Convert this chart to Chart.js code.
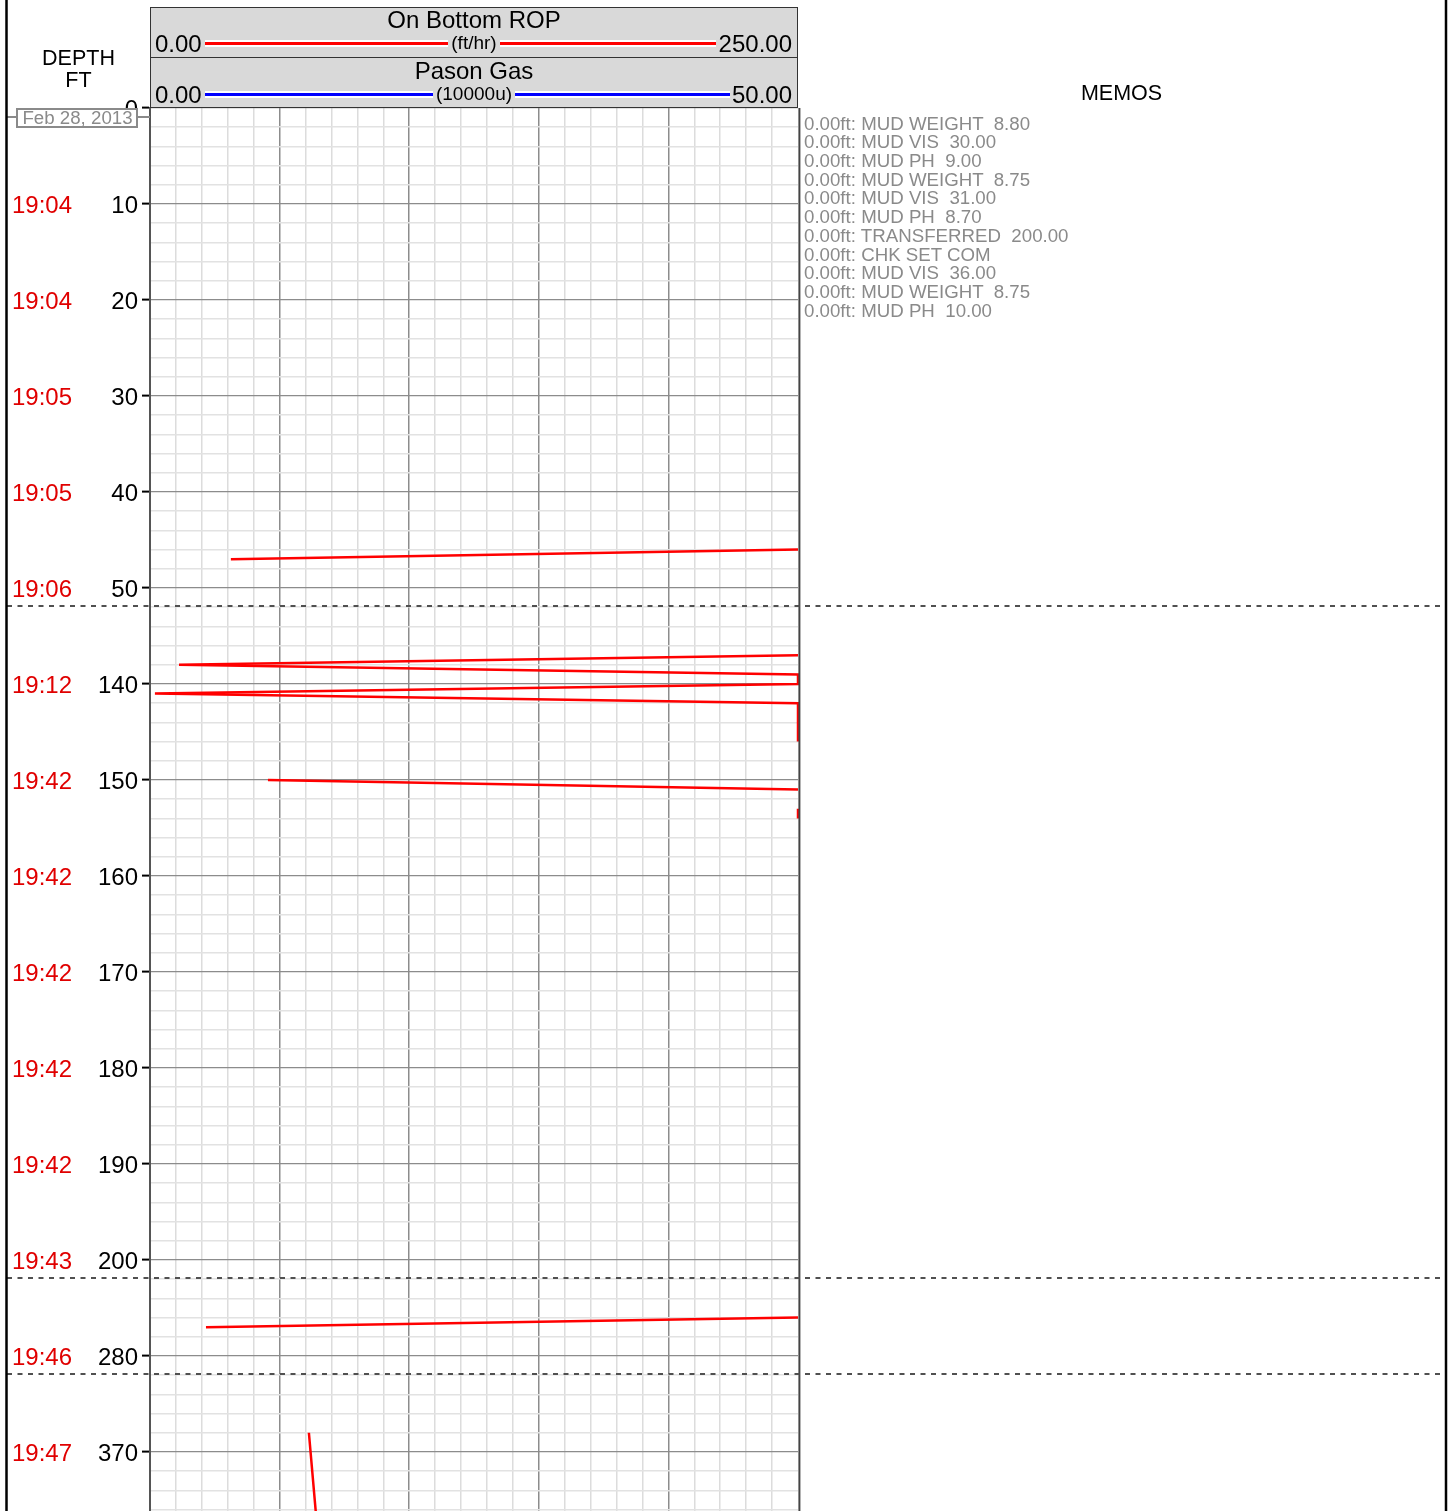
<!DOCTYPE html>
<html>
<head>
<meta charset="utf-8">
<title>On Bottom ROP / Pason Gas - depth log</title>
<script src="https://cdn.jsdelivr.net/npm/chart.js@4.4.1/dist/chart.umd.min.js"></script>
<style>
  html, body { margin: 0; padding: 0; background: #fff; }
  body { width: 1452px; height: 1511px; position: relative; overflow: hidden; font-family: "Liberation Sans", Arial, sans-serif; }
  #logChart { position: absolute; left: 0; top: 0; }
  .txt { position: absolute; white-space: pre; color: #000; }
  .hdrBox { position: absolute; left: 150px; width: 648px; height: 51px; box-sizing: border-box; background: #d9d9d9; border: 1.5px solid #333; }
  .title { left: 150px; width: 648px; text-align: center; font-size: 24px; line-height: 26px; }
  .scaleVal { font-size: 24px; line-height: 26px; }
  .scaleLine { position: absolute; left: 205px; height: 3px; border-top: 2px solid #fff; border-bottom: 2px solid #fff; }
  .unit { left: 150px; width: 648px; text-align: center; font-size: 19px; line-height: 20px; }
  .unit span { background: #d9d9d9; padding: 0 3px; }
  .colHead { font-size: 21.5px; line-height: 24px; text-align: center; }
  #memos { left: 804px; top: 114.6px; font-size: 18.7px; line-height: 18.7px; color: #8a8a8a; }
</style>
</head>
<body>
<canvas id="logChart" width="1452" height="1511"></canvas>

<!-- track headers -->
<div class="hdrBox" style="top:7px"></div>
<div class="hdrBox" style="top:57px"></div>

<div class="txt title" style="top:7px">On Bottom ROP</div>
<div class="scaleLine" style="top:39.5px; width:511px; background:#ff0000"></div>
<div class="txt unit" style="top:33px"><span>(ft/hr)</span></div>
<div class="txt scaleVal" style="left:155px; top:31px">0.00</div>
<div class="txt scaleVal" style="right:660px; top:31px">250.00</div>

<div class="txt title" style="top:58px">Pason Gas</div>
<div class="scaleLine" style="top:90.5px; width:525px; background:#0000ff"></div>
<div class="txt unit" style="top:84px"><span>(10000u)</span></div>
<div class="txt scaleVal" style="left:155px; top:82px">0.00</div>
<div class="txt scaleVal" style="right:660px; top:82px">50.00</div>

<div class="txt colHead" style="left:7px; width:143px; top:46px">DEPTH</div>
<div class="txt colHead" style="left:7px; width:143px; top:68px">FT</div>
<div class="txt colHead" style="left:798px; width:647px; top:81px">MEMOS</div>

<div class="txt" id="memos"></div>

<script>
// Depth (ft) of each ROP sample, null = no reading
const ropDepth = [46, 47, 48, 137, 138, 139, 140, 141, 142, 143, 144, 145, 146, 147,
                  150, 151, 152, 153, 154, 155, 276, 277, 278, 368, 377];
// On Bottom ROP (ft/hr), readings above 250 are pinned to the track edge
const ropValue = [250, 31.2, null, 250, 11.2, 250, 250, 1.9, 250, 250, 250, 250, 250, null,
                  45.5, 250, null, 250, 250, null, 250, 21.6, null, 61.3, 64.2];

// Labeled depth ticks and the clock time printed beside them
const depthTicks = [0, 10, 20, 30, 40, 50, 140, 150, 160, 170, 180, 190, 200, 280, 370];
const tickTimes = ['', '19:04', '19:04', '19:05', '19:05', '19:06', '19:12', '19:42',
                   '19:42', '19:42', '19:42', '19:42', '19:43', '19:46', '19:47'];

// Memo lines
const memoLines = [
  '0.00ft: MUD WEIGHT  8.80',
  '0.00ft: MUD VIS  30.00',
  '0.00ft: MUD PH  9.00',
  '0.00ft: MUD WEIGHT  8.75',
  '0.00ft: MUD VIS  31.00',
  '0.00ft: MUD PH  8.70',
  '0.00ft: TRANSFERRED  200.00',
  '0.00ft: CHK SET COM',
  '0.00ft: MUD VIS  36.00',
  '0.00ft: MUD WEIGHT  8.75',
  '0.00ft: MUD PH  10.00'
];

// Depth intervals shown (the log skips the rest)
const segStart = [0, 131.875, 271.875, 361.875];
const segEnd = [51.875, 201.875, 281.875, 376.15];

document.getElementById('memos').textContent = memoLines.join('\n');

// depth -> position on the compressed axis
function toPos(d) {
  let off = 0;
  for (let i = 0; i < segStart.length; i++) {
    if (d <= segEnd[i] || i === segStart.length - 1) return off + (d - segStart[i]);
    off += segEnd[i] - segStart[i];
  }
}
const totalLen = segEnd.reduce((s, e, i) => s + e - segStart[i], 0);

// grid every 2 ft inside each interval
const gridDepths = [];
segStart.forEach((s, i) => {
  for (let d = Math.ceil(s / 2) * 2; d <= segEnd[i]; d += 2) gridDepths.push(d);
});

const FONT = '"Liberation Sans", Arial, sans-serif';

// extra drawing: times, break lines, date box, frame
const logExtras = {
  id: 'logExtras',
  afterDraw(chart) {
    const ctx = chart.ctx;
    const yScale = chart.scales.y;
    ctx.save();

    // track edge next to the pinned readings
    ctx.strokeStyle = '#444';
    ctx.lineWidth = 2;
    ctx.beginPath();
    ctx.moveTo(799.4, chart.chartArea.top);
    ctx.lineTo(799.4, chart.chartArea.bottom);
    ctx.stroke();

    // red time labels
    ctx.font = '24px ' + FONT;
    ctx.fillStyle = '#e00000';
    ctx.textAlign = 'left';
    ctx.textBaseline = 'middle';
    depthTicks.forEach((d, i) => {
      if (tickTimes[i]) ctx.fillText(tickTimes[i], 12, yScale.getPixelForValue(toPos(d)) + 2);
    });

    // dashed lines where depth jumps
    ctx.strokeStyle = '#505050';
    ctx.lineWidth = 2;
    ctx.setLineDash([5, 5.5]);
    let off = 0;
    for (let i = 0; i < segStart.length - 1; i++) {
      off += segEnd[i] - segStart[i];
      const py = Math.round(yScale.getPixelForValue(off));
      ctx.beginPath();
      ctx.moveTo(7, py);
      ctx.lineTo(1445, py);
      ctx.stroke();
    }
    ctx.setLineDash([]);

    // date box at the top of the depth track
    ctx.strokeStyle = '#8a8a8a';
    ctx.lineWidth = 2;
    ctx.beginPath();
    ctx.moveTo(7, 117); ctx.lineTo(17, 117);
    ctx.moveTo(137, 117); ctx.lineTo(150, 117);
    ctx.stroke();
    ctx.fillStyle = '#fff';
    ctx.fillRect(17, 109, 120, 18);
    ctx.strokeRect(17, 109, 120, 18);
    ctx.fillStyle = '#8a8a8a';
    ctx.font = '18.7px ' + FONT;
    ctx.textAlign = 'center';
    ctx.fillText('Feb 28, 2013', 77.5, 118.5);

    // outer frame
    ctx.strokeStyle = '#000';
    ctx.lineWidth = 2.5;
    ctx.beginPath();
    ctx.moveTo(6.5, 0); ctx.lineTo(6.5, 1511);
    ctx.moveTo(1446, 0); ctx.lineTo(1446, 1511);
    ctx.stroke();
    ctx.restore();
  }
};

new Chart(document.getElementById('logChart'), {
  type: 'line',
  data: {
    datasets: [{
      label: 'On Bottom ROP',
      data: ropDepth.map((d, i) => ({ x: ropValue[i], y: toPos(d) })),
      borderColor: '#ff0000',
      borderWidth: 2.5,
      pointRadius: 0,
      tension: 0,
      spanGaps: false,
      clip: { left: 0, top: 0, right: 3, bottom: 3 }
    }]
  },
  options: {
    indexAxis: 'y',
    responsive: false,
    animation: false,
    layout: { padding: { left: 0, right: 654, top: 108, bottom: 0 } },
    plugins: {
      legend: { display: false },
      tooltip: { enabled: false }
    },
    scales: {
      x: {
        type: 'linear',
        position: 'top',
        min: 0,
        max: 250,
        afterBuildTicks: s => {
          const t = [];
          for (let v = 0; v <= 250; v += 10) t.push({ value: v });
          s.ticks = t;
        },
        afterFit: s => { s.height = 0; },
        ticks: { display: false },
        border: { display: false },
        grid: {
          drawTicks: false,
          // right edge is drawn by the plugin
          color: c => c.tick.value === 250 ? 'rgba(0,0,0,0)' : (c.tick.value === 0 ? '#555' : (c.tick.value % 50 === 0 ? '#8c8c8c' : '#dcdcdc')),
          lineWidth: 1.5
        }
      },
      y: {
        type: 'linear',
        position: 'left',
        reverse: true,
        min: 0,
        max: totalLen,
        afterBuildTicks: s => {
          s.ticks = gridDepths.map(d => ({ value: toPos(d), depth: d }));
        },
        afterFit: s => {
          s.width = 150;
          s.paddingTop = 0;
          s.paddingBottom = 0;
        },
        ticks: {
          autoSkip: false,
          padding: 4,
          labelOffset: 2,
          color: '#000',
          font: { family: FONT, size: 24 },
          callback: (v, i, ticks) => depthTicks.includes(ticks[i].depth) ? String(ticks[i].depth) : ''
        },
        border: { color: '#555', width: 2 },
        grid: {
          tickLength: 8,
          tickWidth: 2,
          tickColor: c => depthTicks.includes(c.tick.depth) ? '#000' : 'rgba(0,0,0,0)',
          color: c => c.tick.depth % 10 === 0 ? '#8c8c8c' : '#e2e2e2',
          lineWidth: c => c.tick.depth % 10 === 0 ? 1.2 : 1.5
        }
      }
    }
  },
  plugins: [logExtras]
});
</script>
</body>
</html>
